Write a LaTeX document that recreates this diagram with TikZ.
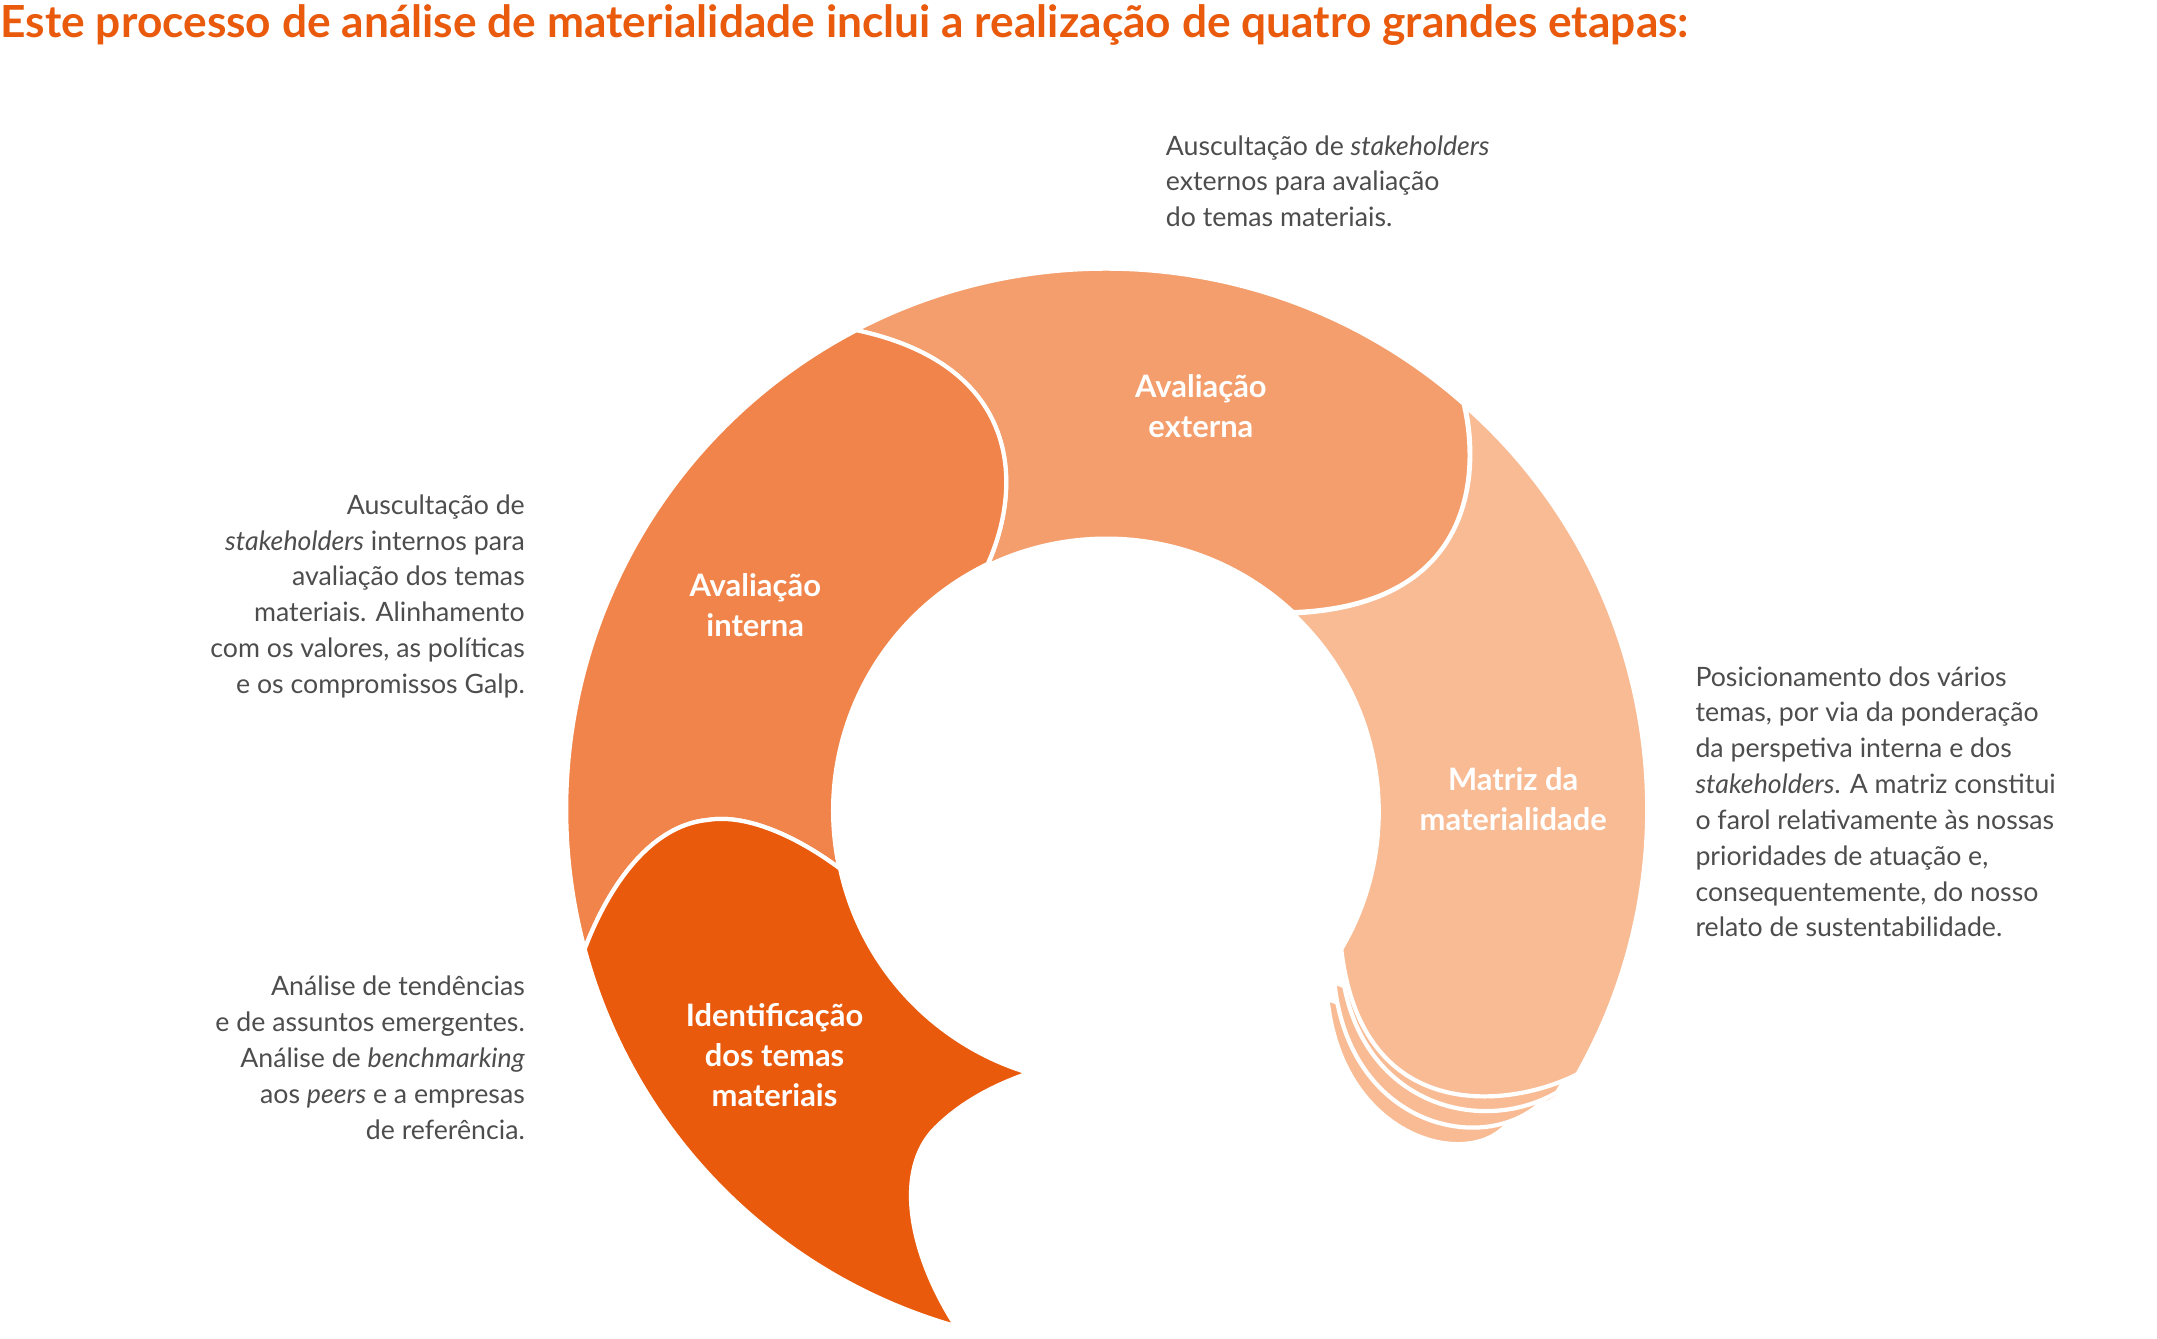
\documentclass[tikz,border=0pt]{standalone}
\usepackage{fontspec}
\setmainfont{Lato}
\definecolor{ext}{HTML}{F39E6C}
\definecolor{inte}{HTML}{F0844A}
\definecolor{mat}{HTML}{F8BB94}
\definecolor{ide}{HTML}{E95A0C}
\definecolor{txt}{HTML}{4D4D4D}
\tikzset{
  seg/.style={draw=white, line width=1.2pt},
  note/.style={text=txt, inner sep=0pt, font=\fontsize{7.6}{10.2}\selectfont},
  lbl/.style={text=white, align=center, font=\fontsize{8.8}{11.4}\selectfont\bfseries}
}
\begin{document}
\begin{tikzpicture}[x=0.013757cm, y=-0.013757cm]
  \useasboundingbox (0,0) rectangle (1568,973);

  \node[anchor=west, inner sep=0pt, text=ide, font=\fontsize{12.6}{14}\selectfont\bfseries] (title) at (0,18)
    {Este processo de análise de materialidade inclui a realização de quatro grandes etapas:};

  % stacked layers under the matrix
  \foreach \dx/\dy/\ex in {-15/36/-35, -10/24/-20, -5/12/-8}{
    \fill[mat, seg, shift={(\dx,\dy)}] (980,690) .. controls (990,790) and (1080,815) .. (1145+\ex,782) -- (1150,760) -- cycle;
  }

  % segments
  \path[fill=ext, seg] (622,240) arc[start angle=-117.6, end angle=-48.6, radius=393]
    .. controls (1075,340) and (1075,440) .. (940,445)
    arc[start angle=-47, end angle=-115.8, radius=199]
    .. controls (745,350) and (740,265) .. cycle;
  \path[fill=inte, seg] (425,690) arc[start angle=165, end angle=242.4, radius=393]
    .. controls (740,265) and (745,350) .. (718,410)
    arc[start angle=244.2, end angle=167.8, radius=199]
    .. controls (575,605) and (540,592) .. (515,596)
    .. controls (470,600) and (440,650) .. cycle;
  \path[fill=mat, seg] (1065,295) arc[start angle=-48.6, end angle=29.5, radius=391]
    .. controls (1100,805) and (990,820) .. (975,690)
    arc[start angle=30.5, end angle=-47, radius=197]
    .. controls (1075,440) and (1075,340) .. cycle;
  \path[fill=ide, seg] (425,690) arc[start angle=165, end angle=105.9, radius=390]
    .. controls (660,910) and (650,850) .. (680,820)
    .. controls (700,800) and (725,788) .. (748,780)
    arc[start angle=106.7, end angle=167.8, radius=199]
    .. controls (575,605) and (540,592) .. (515,596)
    .. controls (470,600) and (440,650) .. cycle;

  % labels
  \node[lbl] (ext) at (873,295) {Avaliação\\externa};
  \node[lbl] (int) at (549,440) {Avaliação\\interna};
  \node[lbl] (mat) at (1100,581) {Matriz da\\materialidade};
  \node[lbl] (ide) at (563,767) {Identificação\\dos temas\\materiais};

  % notes
  \node[note, anchor=north west, align=left] (noteext) at (847,98)
    {Auscultação de \textit{stakeholders}\\externos para avaliação\\do temas materiais.};
  \node[note, anchor=north east, align=right] (noteint) at (382,359)
    {Auscultação de\\\textit{stakeholders} internos para\\avaliação dos temas\\materiais. Alinhamento\\com os valores, as políticas\\e os compromissos Galp.};
  \node[note, anchor=north west, align=left] (notemat) at (1232,484)
    {Posicionamento dos vários\\temas, por via da ponderação\\da perspetiva interna e dos\\\textit{stakeholders}. A matriz constitui\\o farol relativamente às nossas\\prioridades de atuação e,\\consequentemente, do nosso\\relato de sustentabilidade.};
  \node[note, anchor=north east, align=right] (noteide) at (382,709)
    {Análise de tendências\\e de assuntos emergentes.\\Análise de \textit{benchmarking}\\aos \textit{peers} e a empresas\\de referência.};
\end{tikzpicture}
\end{document}
